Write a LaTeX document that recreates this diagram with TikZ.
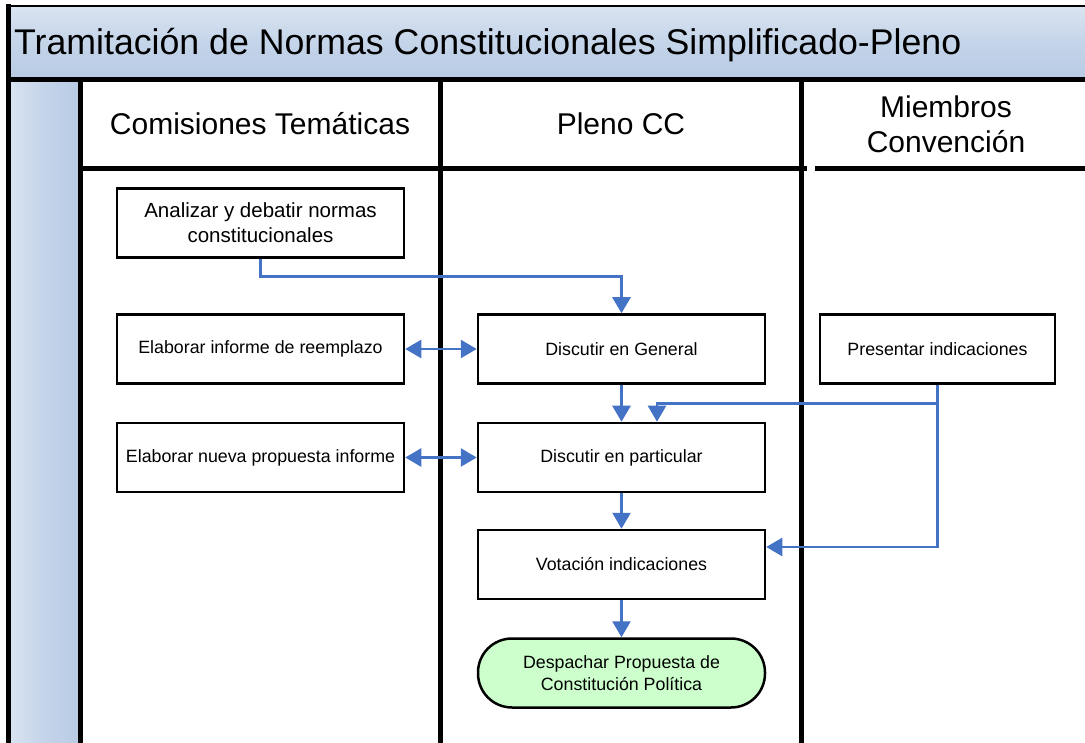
\documentclass[tikz,border=0pt]{standalone}
\usepackage{fontspec}
\setmainfont{Liberation Sans}
\usetikzlibrary{arrows.meta}
\definecolor{arrblue}{RGB}{68,114,196}
\definecolor{bandlight}{RGB}{218,228,241}
\definecolor{banddark}{RGB}{184,203,228}
\definecolor{termgreen}{RGB}{204,255,204}
\tikzset{
  lane/.style={line width=5pt,black},
  task/.style={draw=black,line width=2.5pt,fill=white,minimum width=287pt,minimum height=69pt,inner sep=2pt,align=center,font=\fontsize{17.8}{21.5}\selectfont},
  bigtask/.style={task,font=\fontsize{20.5}{25}\selectfont},
  term/.style={task,fill=termgreen,rounded corners=34pt},
  hdr/.style={align=center,font=\fontsize{30}{35}\selectfont,inner sep=0pt},
  arr/.style={draw=arrblue,line width=2.6pt,-{Triangle[width=18pt,length=16pt]}},
  darr/.style={draw=arrblue,line width=2.6pt,{Triangle[width=18pt,length=16pt]}-{Triangle[width=18pt,length=16pt]}},
}
\begin{document}
\begin{tikzpicture}[x=1pt,y=-1pt]
\useasboundingbox (0,0) rectangle (1085,743);
% bands
\shade[top color=bandlight,bottom color=banddark,middle color={rgb,255:red,196;green,212;blue,233}] (8,6) rectangle (1085,79);
\shade[left color=bandlight,right color=banddark,middle color={rgb,255:red,196;green,212;blue,233}] (8,79) rectangle (80,743);
% lane lines
\draw[line width=2.5pt] (8,6) -- (1085,6);
\draw[lane] (8,4) -- (8,743);
\draw[lane] (8,79.5) -- (1085,79.5);
\draw[lane] (80,79) -- (80,743);
\draw[lane] (440,79) -- (440,743);
\draw[lane] (801.5,79) -- (801.5,743);
\draw[lane] (80,169) -- (807,169);
\draw[lane] (815,169) -- (1085,169);
% titles
\node[anchor=base west,inner sep=0pt,font=\fontsize{35.7}{40}\selectfont] (title) at (14,55) {Tramitación de Normas Constitucionales Simplificado-Pleno};
\node[hdr] (h1) at (260,124) {Comisiones Temáticas};
\node[hdr] (h2) at (621,124) {Pleno CC};
\node[hdr] (h3) at (946,124) {Miembros\\Convención};
% tasks
\node[bigtask] (an) at (260.5,223) {Analizar y debatir normas\\constitucionales};
\node[task] (er) at (260.5,349) {Elaborar informe de reemplazo};
\node[task] (en) at (260.5,457.5) {Elaborar nueva propuesta informe};
\node[task] (dg) at (621.5,349) {Discutir en General};
\node[task] (dp) at (621.5,457.5) {Discutir en particular};
\node[task] (vi) at (621.5,564.5) {Votación indicaciones};
\node[term] (dc) at (621.5,673) {Despachar Propuesta de\\Constitución Política};
\node[task,minimum width=235pt] (pi) at (937.5,349) {Presentar indicaciones};
% connectors
\draw[arr] (an.south) -- ++(0,18) -| (dg.north);
\draw[darr] (er.east) -- (dg.west);
\draw[darr] (en.east) -- (dp.west);
\draw[arr] (dg.south) -- (dp.north);
\draw[arr] (pi.south) -- ++(0,19) -| ([xshift=35.5pt]dp.north);
\draw[arr] (pi.south) |- ([yshift=17.5pt]vi.east);
\draw[arr] (dp.south) -- (vi.north);
\draw[arr] (vi.south) -- (dc.north);
\end{tikzpicture}
\end{document}
